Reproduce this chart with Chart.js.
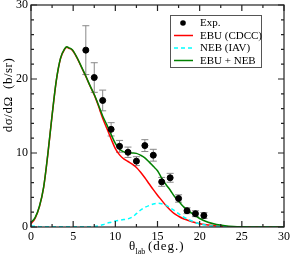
<!DOCTYPE html>
<html>
<head>
<meta charset="utf-8">
<script src="https://cdn.jsdelivr.net/npm/chart.js@4.4.1/dist/chart.umd.min.js"></script>
<style>
  html, body { margin: 0; padding: 0; background: #fff; }
</style>
</head>
<body>
<canvas id="xsChart" width="291" height="257"></canvas>
<script>
  // experimental points
  const expTheta = [6.5, 7.5, 8.5, 9.5, 10.5, 11.5, 12.5, 13.5, 14.5, 15.5, 16.5, 17.5, 18.5, 19.5, 20.5];
  const expSigma = [23.9, 20.2, 17.1, 13.2, 10.9, 10.1, 8.9, 11.0, 9.7, 6.1, 6.65, 3.85, 2.2, 1.8, 1.55];
  const expErr   = [3.3, 2.0, 1.4, 0.9, 0.8, 0.7, 0.6, 0.8, 0.8, 0.6, 0.6, 0.5, 0.4, 0.4, 0.4];

  // calculations
  const curveTheta = [0, 0.5, 1, 1.5, 2, 2.5, 3, 3.5, 4, 4.25, 4.5, 4.8, 5, 5.5, 6, 6.5, 7, 7.5, 8, 8.5,
                      9, 9.5, 10, 10.5, 11, 11.5, 12, 12.5, 13, 13.5, 14, 14.5, 15, 15.5, 16, 16.5, 17, 17.5,
                      18, 18.5, 19, 20, 21, 22, 23, 24, 25, 26, 28, 30];
  const ebuCdcc = [0.45, 1.2, 2.75, 5.35, 9.85, 15.05, 19.75, 22.75, 24.05, 24.3, 24.15, 24.0, 23.75, 22.75, 21.55, 20.35, 19.05, 17.85, 16.35, 14.7,
                   13.3, 11.9, 10.6, 9.75, 9.2, 8.85, 8.5, 8.05, 7.4, 6.65, 5.85, 5.05, 4.3, 3.6, 2.9, 2.3, 1.8, 1.45,
                   1.15, 0.95, 0.75, 0.45, 0.28, 0.15, 0.06, 0.02, 0, 0, 0, 0];
  const nebIav = [0.15, 0.1, 0.05, 0.03, 0.02, 0.02, 0.02, 0.02, 0.02, 0.02, 0.02, 0.02, 0.02, 0.02, 0.02, 0.02, 0.02, 0.05, 0.15, 0.3,
                  0.5, 0.65, 0.8, 0.9, 1.0, 1.1, 1.35, 1.8, 2.3, 2.65, 2.9, 3.1, 3.2, 3.15, 2.95, 2.6, 2.2, 1.8,
                  1.4, 1.1, 0.85, 0.42, 0.2, 0.1, 0.04, 0.01, 0, 0, 0, 0];
  const ebuPlusNeb = [0.6, 1.3, 2.8, 5.4, 9.9, 15.1, 19.8, 22.8, 24.1, 24.35, 24.2, 24.05, 23.8, 22.8, 21.6, 20.4, 19.1, 17.9, 16.5, 15.0,
                      13.8, 12.5, 11.3, 10.5, 10.15, 10.05, 10.0, 9.95, 9.7, 9.35, 8.8, 8.2, 7.6, 6.6, 5.75, 5.0, 4.15, 3.5,
                      2.85, 2.35, 1.9, 1.15, 0.65, 0.35, 0.18, 0.08, 0.03, 0.01, 0, 0];

  const xTicks = [0, 5, 10, 15, 20, 25, 30];
  const yTicks = [0, 10, 20, 30];

  const serif = '"Liberation Serif", "DejaVu Serif", serif';

  function pts(xs, ys) {
    return xs.map(function (x, i) { return { x: x, y: ys[i] }; });
  }

  // frame with inward ticks on all four sides
  const frameTicks = {
    id: 'frameTicks',
    afterDatasetsDraw(chart) {
      const c = chart.ctx, a = chart.chartArea;
      const xs = chart.scales.x, ys = chart.scales.y;
      c.save();
      c.strokeStyle = '#222';
      c.lineWidth = 1.2;
      c.strokeRect(a.left, a.top, a.right - a.left, a.bottom - a.top);
      c.beginPath();
      for (let v = 0; v <= 30; v += 2.5) {
        const px = xs.getPixelForValue(v);
        const len = (v % 5 === 0) ? 6 : 3;
        c.moveTo(px, a.bottom); c.lineTo(px, a.bottom - len);
        c.moveTo(px, a.top); c.lineTo(px, a.top + len);
      }
      for (let v = 0; v <= 30; v += 2) {
        const py = ys.getPixelForValue(v);
        const len = (v % 10 === 0) ? 6 : 3;
        c.moveTo(a.left, py); c.lineTo(a.left + len, py);
        c.moveTo(a.right, py); c.lineTo(a.right - len, py);
      }
      c.stroke();
      c.restore();
    }
  };

  // vertical error bars under the points
  const errorBars = {
    id: 'errorBars',
    beforeDatasetsDraw(chart) {
      const c = chart.ctx;
      const xs = chart.scales.x, ys = chart.scales.y;
      c.save();
      c.strokeStyle = '#888';
      c.lineWidth = 1;
      c.beginPath();
      for (let i = 0; i < expTheta.length; i++) {
        const px = xs.getPixelForValue(expTheta[i]);
        const top = ys.getPixelForValue(expSigma[i] + expErr[i]);
        const bot = ys.getPixelForValue(expSigma[i] - expErr[i]);
        c.moveTo(px, top); c.lineTo(px, bot);
        c.moveTo(px - 3.5, top); c.lineTo(px + 3.5, top);
        c.moveTo(px - 3.5, bot); c.lineTo(px + 3.5, bot);
      }
      c.stroke();
      c.restore();
    }
  };

  // boxed legend in the upper right and axis titles (subscript on x)
  const labelsAndLegend = {
    id: 'labelsAndLegend',
    afterDraw(chart) {
      const c = chart.ctx;
      c.save();
      // legend
      const bx = 170.5, by = 15.5, bw = 91, bh = 52;
      c.fillStyle = '#fff';
      c.fillRect(bx, by, bw, bh);
      c.strokeStyle = '#555';
      c.lineWidth = 1;
      c.strokeRect(bx, by, bw, bh);
      const ds = chart.data.datasets;
      c.font = '11px ' + serif;
      c.textBaseline = 'middle';
      c.textAlign = 'left';
      ds.forEach(function (d, r) {
        const ry = 23 + r * 12.5;
        if (r === 0) {
          c.fillStyle = '#000';
          c.beginPath();
          c.arc(183, ry, 2.8, 0, Math.PI * 2);
          c.fill();
        } else {
          c.strokeStyle = d.borderColor;
          c.lineWidth = 1.5;
          c.setLineDash(d.borderDash || []);
          c.beginPath();
          c.moveTo(174, ry); c.lineTo(193, ry);
          c.stroke();
          c.setLineDash([]);
        }
        c.fillStyle = '#000';
        c.fillText(d.label, 200, ry + 0.5);
      });
      // x title
      c.textBaseline = 'alphabetic';
      c.font = '13px ' + serif;
      c.fillText('\u03b8', 129, 250);
      c.font = '8px ' + serif;
      c.fillText('lab', 135.5, 254);
      c.font = '13px ' + serif;
      c.letterSpacing = '1px';
      c.fillText('(deg.)', 148, 250);
      c.letterSpacing = '0px';
      // y title
      c.translate(12, 95);
      c.rotate(-Math.PI / 2);
      c.textAlign = 'center';
      c.font = '13px ' + serif;
      c.letterSpacing = '0.5px';
      c.fillText('d\u03c3/d\u03a9  (b/sr)', 0, 0);
      c.restore();
    }
  };

  const ctx = document.getElementById('xsChart').getContext('2d');
  const xsChart = new Chart(ctx, {
    type: 'line',
    data: {
      datasets: [
        {
          label: 'Exp.',
          type: 'scatter',
          data: pts(expTheta, expSigma),
          backgroundColor: '#000',
          borderColor: '#000',
          pointRadius: 3,
          order: 0
        },
        {
          label: 'EBU (CDCC)',
          data: pts(curveTheta, ebuCdcc),
          borderColor: '#ff0000',
          borderWidth: 1.5,
          pointRadius: 0,
          cubicInterpolationMode: 'monotone',
          order: 3
        },
        {
          label: 'NEB (IAV)',
          data: pts(curveTheta, nebIav),
          borderColor: '#00ffff',
          borderDash: [4, 3],
          borderWidth: 1.5,
          pointRadius: 0,
          cubicInterpolationMode: 'monotone',
          order: 2
        },
        {
          label: 'EBU + NEB',
          data: pts(curveTheta, ebuPlusNeb),
          borderColor: '#008000',
          borderWidth: 1.5,
          pointRadius: 0,
          cubicInterpolationMode: 'monotone',
          order: 1
        }
      ]
    },
    options: {
      responsive: false,
      animation: false,
      devicePixelRatio: 1,
      layout: { padding: { top: 5, right: 7, left: 0, bottom: 0 } },
      plugins: {
        legend: { display: false },
        tooltip: { enabled: false }
      },
      scales: {
        x: {
          type: 'linear',
          min: 0,
          max: 30,
          afterBuildTicks: function (s) { s.ticks = xTicks.map(function (v) { return { value: v }; }); },
          afterFit: function (s) { s.height = 30; s.paddingLeft = 0; s.paddingRight = 0; },
          ticks: { font: { family: serif, size: 12 }, color: '#000', padding: 3, maxRotation: 0 },
          grid: { display: false, drawTicks: false },
          border: { display: false }
        },
        y: {
          type: 'linear',
          min: 0,
          max: 30,
          afterBuildTicks: function (s) { s.ticks = yTicks.map(function (v) { return { value: v }; }); },
          afterFit: function (s) { s.width = 31; s.paddingTop = 0; s.paddingBottom = 0; },
          ticks: { font: { family: serif, size: 12 }, color: '#000', padding: 3 },
          grid: { display: false, drawTicks: false },
          border: { display: false }
        }
      }
    },
    plugins: [errorBars, frameTicks, labelsAndLegend]
  });
</script>
</body>
</html>
